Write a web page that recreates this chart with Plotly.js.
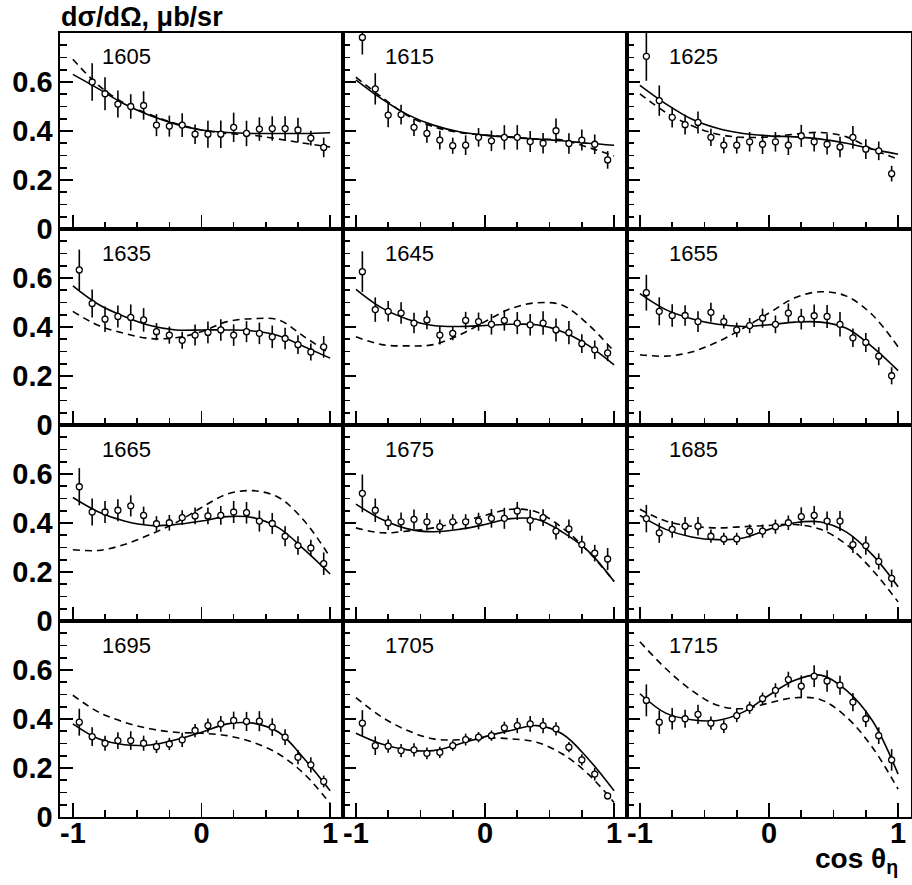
<!DOCTYPE html>
<html><head><meta charset="utf-8">
<script src="https://cdn.plot.ly/plotly-3.0.1.min.js"></script>
<style>html,body{margin:0;padding:0;background:#fff}</style>
</head><body><div id="chart" style="width:912px;height:885px"></div>
<script>
// ---- data ----
const energies = [1605, 1615, 1625, 1635, 1645, 1655, 1665, 1675, 1685, 1695, 1705, 1715];
const cosBins = [-0.95,-0.85,-0.75,-0.65,-0.55,-0.45,-0.35,-0.25,-0.15,-0.05,0.05,0.15,0.25,0.35,0.45,0.55,0.65,0.75,0.85,0.95];
const curveCos = [-1,-0.8,-0.6,-0.4,-0.2,0,0.2,0.4,0.6,0.8,1];
const xTickVals = [-1, 0, 1];
const xTickText = ['-1', '0', '1'];
const yTickVals = [0, 0.2, 0.4, 0.6];
const yTickText = ['0', '0.2', '0.4', '0.6'];

const xsecValues = [
 [null,0.600,0.552,0.510,0.500,0.504,0.424,0.420,0.424,0.387,0.387,0.387,0.415,0.390,0.408,0.410,0.410,0.404,0.371,0.333],
 [0.782,0.572,0.465,0.467,0.415,0.390,0.363,0.340,0.342,0.374,0.360,0.374,0.374,0.357,0.350,0.401,0.349,0.363,0.346,0.282],
 [0.705,0.524,0.456,0.426,0.435,0.374,0.342,0.342,0.356,0.346,0.356,0.342,0.380,0.356,0.346,0.335,0.374,0.326,0.319,0.226],
 [0.633,0.496,0.432,0.443,0.439,0.429,0.381,0.367,0.346,0.367,0.378,0.388,0.367,0.381,0.374,0.360,0.353,0.328,0.298,0.319],
 [0.626,0.471,0.464,0.457,0.416,0.429,0.367,0.374,0.427,0.422,0.411,0.427,0.416,0.409,0.416,0.388,0.377,0.332,0.307,0.294],
 [0.540,0.464,0.447,0.447,0.422,0.460,0.422,0.388,0.406,0.436,0.411,0.457,0.432,0.446,0.443,0.411,0.356,0.337,0.281,0.201],
 [0.548,0.445,0.445,0.452,0.470,0.431,0.397,0.401,0.422,0.429,0.429,0.431,0.445,0.442,0.408,0.398,0.346,0.308,0.298,0.234],
 [0.521,0.452,0.401,0.405,0.415,0.405,0.385,0.405,0.405,0.408,0.419,0.419,0.449,0.411,0.422,0.367,0.376,0.312,0.277,0.253],
 [0.418,0.360,0.374,0.387,0.387,0.346,0.335,0.335,0.367,0.367,0.385,0.401,0.426,0.431,0.408,0.408,0.312,0.308,0.243,0.174],
 [0.387,0.328,0.301,0.312,0.312,0.301,0.287,0.298,0.315,0.353,0.373,0.380,0.394,0.390,0.391,0.367,0.326,0.244,0.213,0.145],
 [0.383,0.291,0.289,0.271,0.274,0.260,0.264,0.291,0.316,0.326,0.332,0.364,0.373,0.380,0.373,0.360,0.285,0.233,0.175,0.086],
 [0.476,0.387,0.401,0.401,0.419,0.383,0.369,0.414,0.446,0.483,0.517,0.561,0.534,0.575,0.555,0.538,0.469,0.401,0.332,0.233]
];
const xsecErrors = [
 [null,0.077,0.067,0.055,0.050,0.058,0.045,0.043,0.048,0.040,0.055,0.056,0.060,0.052,0.048,0.050,0.050,0.050,0.030,0.040],
 [0.070,0.064,0.050,0.040,0.035,0.038,0.038,0.033,0.040,0.038,0.042,0.050,0.050,0.043,0.042,0.050,0.042,0.043,0.040,0.036],
 [0.100,0.062,0.042,0.040,0.045,0.035,0.033,0.034,0.040,0.040,0.040,0.040,0.045,0.040,0.042,0.042,0.046,0.040,0.038,0.032],
 [0.083,0.057,0.052,0.045,0.053,0.048,0.035,0.035,0.035,0.043,0.044,0.044,0.044,0.043,0.044,0.046,0.044,0.038,0.035,0.044],
 [0.083,0.050,0.042,0.044,0.042,0.038,0.038,0.028,0.035,0.037,0.042,0.042,0.045,0.044,0.048,0.047,0.047,0.038,0.038,0.033],
 [0.073,0.057,0.046,0.042,0.042,0.039,0.028,0.030,0.031,0.039,0.036,0.039,0.042,0.046,0.047,0.050,0.038,0.039,0.037,0.035],
 [0.076,0.055,0.045,0.045,0.043,0.036,0.031,0.032,0.030,0.034,0.034,0.038,0.045,0.044,0.043,0.043,0.041,0.038,0.034,0.046],
 [0.077,0.048,0.030,0.038,0.040,0.036,0.029,0.031,0.031,0.034,0.038,0.043,0.037,0.043,0.034,0.034,0.038,0.036,0.034,0.045],
 [0.056,0.041,0.034,0.038,0.038,0.027,0.025,0.025,0.027,0.027,0.029,0.030,0.038,0.038,0.039,0.041,0.034,0.038,0.033,0.036],
 [0.055,0.038,0.031,0.034,0.038,0.031,0.026,0.025,0.029,0.027,0.029,0.032,0.036,0.039,0.041,0.036,0.032,0.029,0.031,0.024],
 [0.053,0.038,0.027,0.027,0.027,0.024,0.023,0.021,0.024,0.021,0.021,0.025,0.031,0.032,0.031,0.027,0.021,0.023,0.026,0.014],
 [0.065,0.048,0.044,0.037,0.039,0.027,0.026,0.027,0.025,0.025,0.029,0.032,0.044,0.044,0.044,0.039,0.037,0.034,0.034,0.044]
];
const solidFit = [
 [0.631,0.572,0.510,0.463,0.428,0.404,0.394,0.390,0.390,0.390,0.393],
 [0.609,0.531,0.467,0.424,0.397,0.383,0.374,0.367,0.360,0.350,0.342],
 [0.586,0.511,0.449,0.411,0.390,0.380,0.376,0.367,0.350,0.326,0.305],
 [0.568,0.492,0.443,0.406,0.388,0.388,0.388,0.384,0.364,0.319,0.273],
 [0.554,0.478,0.432,0.406,0.402,0.406,0.411,0.409,0.381,0.325,0.245],
 [0.536,0.471,0.434,0.411,0.402,0.409,0.420,0.420,0.395,0.319,0.222],
 [0.504,0.445,0.408,0.390,0.394,0.408,0.426,0.422,0.380,0.291,0.192],
 [0.477,0.415,0.376,0.364,0.374,0.394,0.418,0.415,0.363,0.285,0.161],
 [0.431,0.374,0.343,0.332,0.339,0.374,0.401,0.404,0.363,0.271,0.140],
 [0.380,0.319,0.295,0.294,0.315,0.346,0.380,0.383,0.346,0.237,0.107],
 [0.342,0.298,0.274,0.271,0.298,0.328,0.353,0.373,0.339,0.237,0.107],
 [0.503,0.424,0.397,0.394,0.428,0.497,0.558,0.579,0.517,0.394,0.175]
];
const dashedFit = [
 [0.693,0.586,0.513,0.467,0.431,0.404,0.390,0.383,0.367,0.350,0.335],
 [0.620,0.538,0.463,0.418,0.394,0.383,0.376,0.367,0.363,0.333,0.298],
 [0.552,0.476,0.422,0.387,0.374,0.376,0.387,0.394,0.376,0.326,0.285],
 [0.464,0.406,0.374,0.353,0.356,0.381,0.422,0.434,0.429,0.360,0.291],
 [0.360,0.328,0.323,0.328,0.367,0.422,0.475,0.499,0.489,0.410,0.300],
 [0.287,0.281,0.298,0.339,0.395,0.457,0.519,0.544,0.526,0.450,0.319],
 [0.291,0.288,0.312,0.353,0.401,0.463,0.518,0.532,0.504,0.408,0.260],
 [0.380,0.360,0.367,0.380,0.404,0.431,0.456,0.445,0.380,0.284,0.161],
 [0.456,0.408,0.387,0.380,0.385,0.390,0.394,0.374,0.312,0.209,0.078],
 [0.497,0.428,0.387,0.360,0.346,0.342,0.332,0.305,0.257,0.175,0.055],
 [0.487,0.408,0.353,0.319,0.315,0.323,0.319,0.305,0.257,0.175,0.059],
 [0.715,0.606,0.517,0.456,0.442,0.465,0.487,0.479,0.408,0.285,0.114]
];

// ---- layout ----
const W = 912, H = 885;
const colEdges = [60, 343, 627, 911];
const rowEdges = [33, 229, 425, 621, 817];
const tickFont = {family: 'Liberation Sans, Arial, sans-serif', size: 29, color: 'black', weight: 'bold'};

const traces = [];
const layout = {
  width: W, height: H, autosize: false,
  margin: {l: 0, r: 0, t: 0, b: 0},
  paper_bgcolor: 'white', plot_bgcolor: 'white',
  showlegend: false,
  annotations: [],
  font: {family: 'Liberation Sans, Arial, sans-serif', color: 'black'}
};

for (let i = 0; i < 12; i++) {
  const r = Math.floor(i / 3), c = i % 3, n = i + 1;
  const sfx = n === 1 ? '' : String(n);
  const xa = 'x' + sfx, ya = 'y' + sfx;
  traces.push({type: 'scatter', mode: 'lines', x: curveCos, y: solidFit[i], xaxis: xa, yaxis: ya,
    line: {color: 'black', width: 1.6, shape: 'spline', smoothing: 1}, hoverinfo: 'skip'});
  traces.push({type: 'scatter', mode: 'lines', x: curveCos, y: dashedFit[i], xaxis: xa, yaxis: ya,
    line: {color: 'black', width: 1.6, dash: '7px,5px', shape: 'spline', smoothing: 1}, hoverinfo: 'skip'});
  traces.push({type: 'scatter', mode: 'markers', x: cosBins, y: xsecValues[i], xaxis: xa, yaxis: ya,
    error_y: {type: 'data', array: xsecErrors[i], visible: true, thickness: 1.6, width: 0, color: 'black'},
    marker: {symbol: 'circle', size: 6, color: 'white', line: {color: 'black', width: 1.3}}});

  layout['xaxis' + sfx] = {
    domain: [colEdges[c] / W, colEdges[c + 1] / W], anchor: ya,
    range: [-1.1, 1.1], showgrid: false, zeroline: false,
    showline: true, mirror: true, linecolor: 'black', linewidth: 1.6,
    ticks: 'inside', ticklen: 14, tickwidth: 1.6, tickcolor: 'black',
    tickmode: 'array', tickvals: xTickVals, ticktext: xTickText,
    showticklabels: r === 3, tickfont: tickFont, ticklabelstandoff: -10,
    minor: {ticks: 'inside', tickmode: 'linear', tick0: 0, dtick: 0.25, ticklen: 7, tickwidth: 1.6, tickcolor: 'black', showgrid: false}
  };
  layout['yaxis' + sfx] = {
    domain: [1 - rowEdges[r + 1] / H, 1 - rowEdges[r] / H], anchor: xa,
    range: [0, 0.8], showgrid: false, zeroline: false,
    showline: true, mirror: true, linecolor: 'black', linewidth: 1.6,
    ticks: 'inside', ticklen: 13, tickwidth: 1.6, tickcolor: 'black',
    tickmode: 'array', tickvals: yTickVals, ticktext: yTickText,
    showticklabels: c === 0, tickfont: tickFont,
    minor: {ticks: 'inside', tickmode: 'linear', tick0: 0, dtick: 0.05, ticklen: 7, tickwidth: 1.6, tickcolor: 'black', showgrid: false}
  };
  layout.annotations.push({
    xref: 'paper', yref: 'paper', x: (colEdges[c] + 40) / W, y: 1 - (rowEdges[r] + 24) / H,
    xanchor: 'left', yanchor: 'middle', showarrow: false,
    text: String(energies[i]), font: {size: 22, color: 'black', family: 'Liberation Sans, Arial, sans-serif'}
  });
}
layout.annotations.push({
  xref: 'paper', yref: 'paper', x: 59 / W, y: 1 - 17 / H, xanchor: 'left', yanchor: 'middle', showarrow: false,
  text: '<b>dσ/dΩ, μb/sr</b>', font: {size: 27, color: 'black', family: 'Liberation Sans, Arial, sans-serif'}
});
layout.annotations.push({
  xref: 'paper', yref: 'paper', x: 900 / W, y: 1 - 860 / H, xanchor: 'right', yanchor: 'middle', showarrow: false,
  text: '<b>cos θ<sub>η</sub></b>', font: {size: 28, color: 'black', family: 'Liberation Sans, Arial, sans-serif'}
});

Plotly.newPlot('chart', traces, layout, {staticPlot: true, displayModeBar: false});
</script>
</body></html>
